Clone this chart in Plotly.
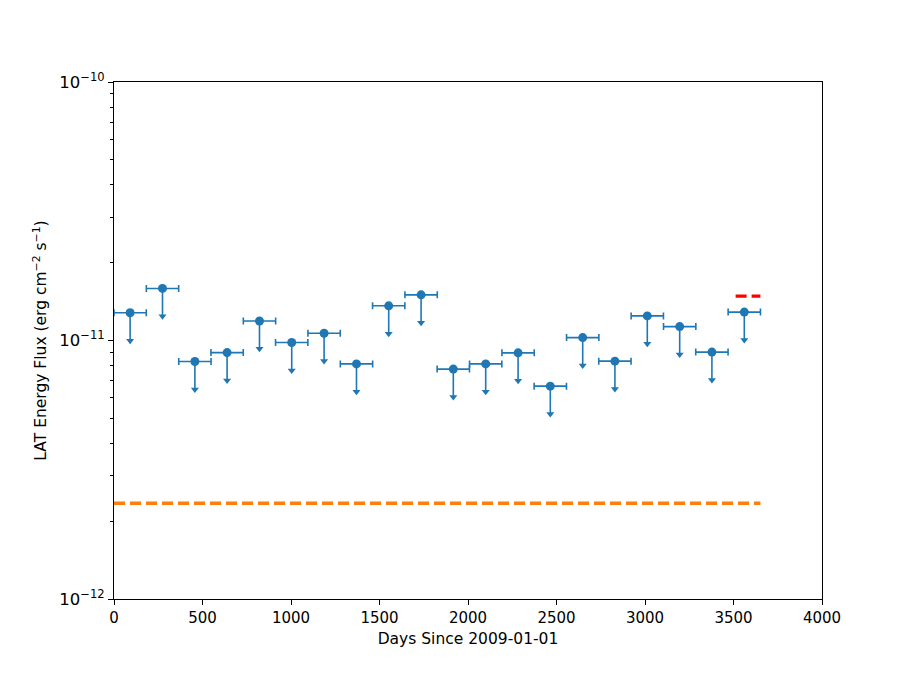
import plotly.graph_objects as go

# Data
days = [91, 274, 457, 639, 822, 1004, 1187, 1370, 1552, 1735,
        1917, 2100, 2283, 2465, 2648, 2830, 3013, 3196, 3378, 3561]
half_width = [91.3] * 20
flux_ul = [1.28e-11, 1.59e-11, 8.29e-12, 8.98e-12, 1.19e-11, 9.82e-12, 1.067e-11, 8.12e-12, 1.362e-11, 1.502e-11,
           7.75e-12, 8.12e-12, 8.96e-12, 6.66e-12, 1.026e-11, 8.32e-12, 1.245e-11, 1.132e-11, 9.02e-12, 1.288e-11]
arrow_frac = 0.22

orange_x = [0, 3652]
orange_y = [2.346e-12, 2.346e-12]
red_x = [3512, 3652]
red_y = [1.485e-11, 1.485e-11]

blue = "#1f77b4"

fig = go.Figure()

fig.add_trace(go.Scatter(
    x=orange_x, y=orange_y, mode="lines",
    line=dict(color="#ff7f0e", width=3.3, dash="11px,5px"), showlegend=False))
fig.add_trace(go.Scatter(
    x=red_x, y=red_y, mode="lines",
    line=dict(color="#ff0000", width=3.3, dash="11px,5px"), showlegend=False))

# upper-limit arrows (shaft)
fig.add_trace(go.Scatter(
    x=days, y=flux_ul, mode="markers",
    marker=dict(size=1, color="rgba(0,0,0,0)"),
    error_y=dict(type="data", symmetric=False, array=[0] * len(flux_ul),
                 arrayminus=[v * arrow_frac for v in flux_ul],
                 color=blue, thickness=1.6, width=0),
    showlegend=False, hoverinfo="skip"))
# arrow heads
fig.add_trace(go.Scatter(
    x=days, y=[v * (1 - arrow_frac) for v in flux_ul], mode="markers",
    marker=dict(symbol="triangle-down", size=7, color=blue, line=dict(width=0)),
    showlegend=False, hoverinfo="skip"))
# points with x error bars
fig.add_trace(go.Scatter(
    x=days, y=flux_ul, mode="markers",
    marker=dict(size=9, color=blue),
    error_x=dict(type="data", array=half_width, color=blue, thickness=1.6, width=3.5),
    showlegend=False))

fig.update_layout(
    width=913, height=685,
    margin=dict(l=106, r=99, t=74, b=94),
    plot_bgcolor="white", paper_bgcolor="white",
    font=dict(family="DejaVu Sans", size=15, color="black"),
)
fig.update_xaxes(
    range=[0, 4000], tickmode="array", tickvals=[0, 500, 1000, 1500, 2000, 2500, 3000, 3500, 4000],
    ticktext=["0", "500", "1000", "1500", "2000", "2500", "3000", "3500", "4000"],
    tickfont=dict(size=15),
    showline=True, linecolor="black", linewidth=1.1, mirror=True,
    ticks="outside", ticklen=5, tickwidth=1.1, tickcolor="black",
    showgrid=False, zeroline=False,
    title=dict(text="Days Since 2009-01-01", standoff=7, font=dict(size=15.5)),
)
fig.update_yaxes(
    type="log", range=[-12, -10],
    tickmode="array", tickvals=[1e-12, 1e-11, 1e-10],
    ticktext=["10<sup>−12</sup>", "10<sup>−11</sup>", "10<sup>−10</sup>"],
    tickfont=dict(size=16.5),
    showline=True, linecolor="black", linewidth=1.1, mirror=True,
    ticks="outside", ticklen=5, tickwidth=1.1, tickcolor="black",
    minor=dict(ticks="outside", ticklen=3, tickwidth=0.8, tickcolor="black",
               tickvals=[2e-12, 3e-12, 4e-12, 5e-12, 6e-12, 7e-12, 8e-12, 9e-12,
                         2e-11, 3e-11, 4e-11, 5e-11, 6e-11, 7e-11, 8e-11, 9e-11],
               showgrid=False),
    showgrid=False, zeroline=False,
    title=dict(text="LAT Energy Flux (erg cm<sup>−2</sup> s<sup>−1</sup>)", standoff=8, font=dict(size=15.5)),
)

fig.write_html("out.html")
